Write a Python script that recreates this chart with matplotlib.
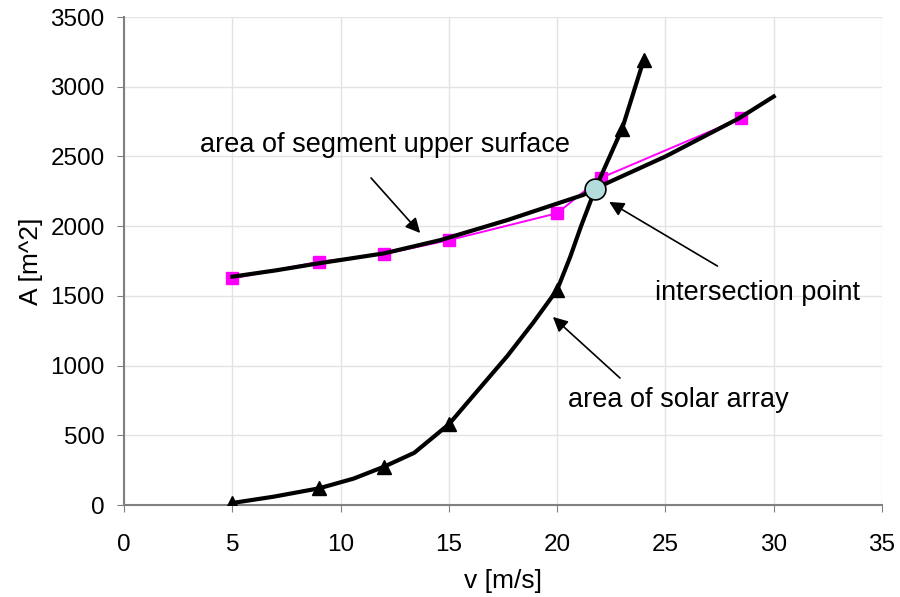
import matplotlib.pyplot as plt

plt.rcParams['font.family'] = ['Liberation Sans', 'DejaVu Sans']

# area of solar array (line, markers at the computed points)
solar_v = [5, 6.9, 9, 10.6, 12, 13.4, 15, 16.1, 17.7, 18.9, 20, 20.6, 21.1, 21.75, 23, 24]
solar_a = [15, 60, 120, 190, 275, 375, 580, 780, 1070, 1310, 1545, 1780, 2000, 2265, 2700, 3195]
solar_mark_v = [5, 9, 12, 15, 20, 23, 24]
solar_mark_a = [15, 120, 275, 580, 1545, 2700, 3195]

# area of segment upper surface (fitted curve)
upper_v = [5, 7, 9, 12, 14.6, 17.7, 21.2, 22.1, 25, 28.4, 30]
upper_a = [1638, 1683, 1734, 1805, 1900, 2044, 2224, 2295, 2500, 2774, 2930]

# upper surface, computed points
pts_v = [5, 9, 12, 15, 20, 22, 28.5]
pts_a = [1625, 1745, 1800, 1900, 2093, 2345, 2775]

cross_v, cross_a = 21.75, 2265

fig = plt.figure(figsize=(9, 5.97), dpi=100)
ax = fig.add_axes([0.138, 0.154, 0.842, 0.8175])

ax.plot(pts_v, pts_a, color='#ff00ff', lw=1.4, marker='s', ms=9,
        markeredgecolor='#ff00ff', zorder=2)
ax.plot(upper_v, upper_a, color='black', lw=3, zorder=3)
ax.plot(solar_v, solar_a, color='black', lw=3, zorder=3)
ax.plot(solar_mark_v, solar_mark_a, ls='none', marker='^', ms=10,
        color='black', zorder=4)
ax.plot([cross_v], [cross_a], marker='o', ms=15, markerfacecolor='#b5dcdc',
        markeredgecolor='black', markeredgewidth=1.2, zorder=5)

arrow = dict(arrowstyle='-|>', color='black', lw=1.2, mutation_scale=22,
             shrinkA=0, shrinkB=0)
ax.annotate('', xy=(13.67, 1951), xytext=(11.4, 2346), arrowprops=arrow, zorder=6)
ax.text(3.5, 2580, 'area of segment upper surface', fontsize=19.5, ha='left', va='center')
ax.annotate('', xy=(22.4, 2174), xytext=(27.4, 1714), arrowprops=arrow, zorder=6)
ax.text(24.5, 1520, 'intersection point', fontsize=19.5, ha='left', va='center')
ax.annotate('', xy=(19.8, 1349), xytext=(22.9, 911), arrowprops=arrow, zorder=6)
ax.text(20.5, 753, 'area of solar array', fontsize=19.5, ha='left', va='center')

ax.set_xlim(0, 35)
ax.set_ylim(0, 3500)
ax.set_xticks(range(0, 36, 5))
ax.set_yticks(range(0, 3501, 500))
ax.grid(True, color='#e3e3e3', lw=1)
ax.set_axisbelow(True)
for s in ['top', 'right']:
    ax.spines[s].set_visible(False)
for s in ['left', 'bottom']:
    ax.spines[s].set_color('#808080')
    ax.spines[s].set_linewidth(1.5)
ax.tick_params(direction='out', length=5, color='#808080', labelsize=17.5)
ax.tick_params(axis='x', pad=16)
ax.tick_params(axis='y', pad=9)
ax.set_xlabel('v [m/s]', fontsize=19, labelpad=9)
ax.set_ylabel('A [m^2]', fontsize=19, labelpad=5)

fig.savefig('out.png', dpi=100)
